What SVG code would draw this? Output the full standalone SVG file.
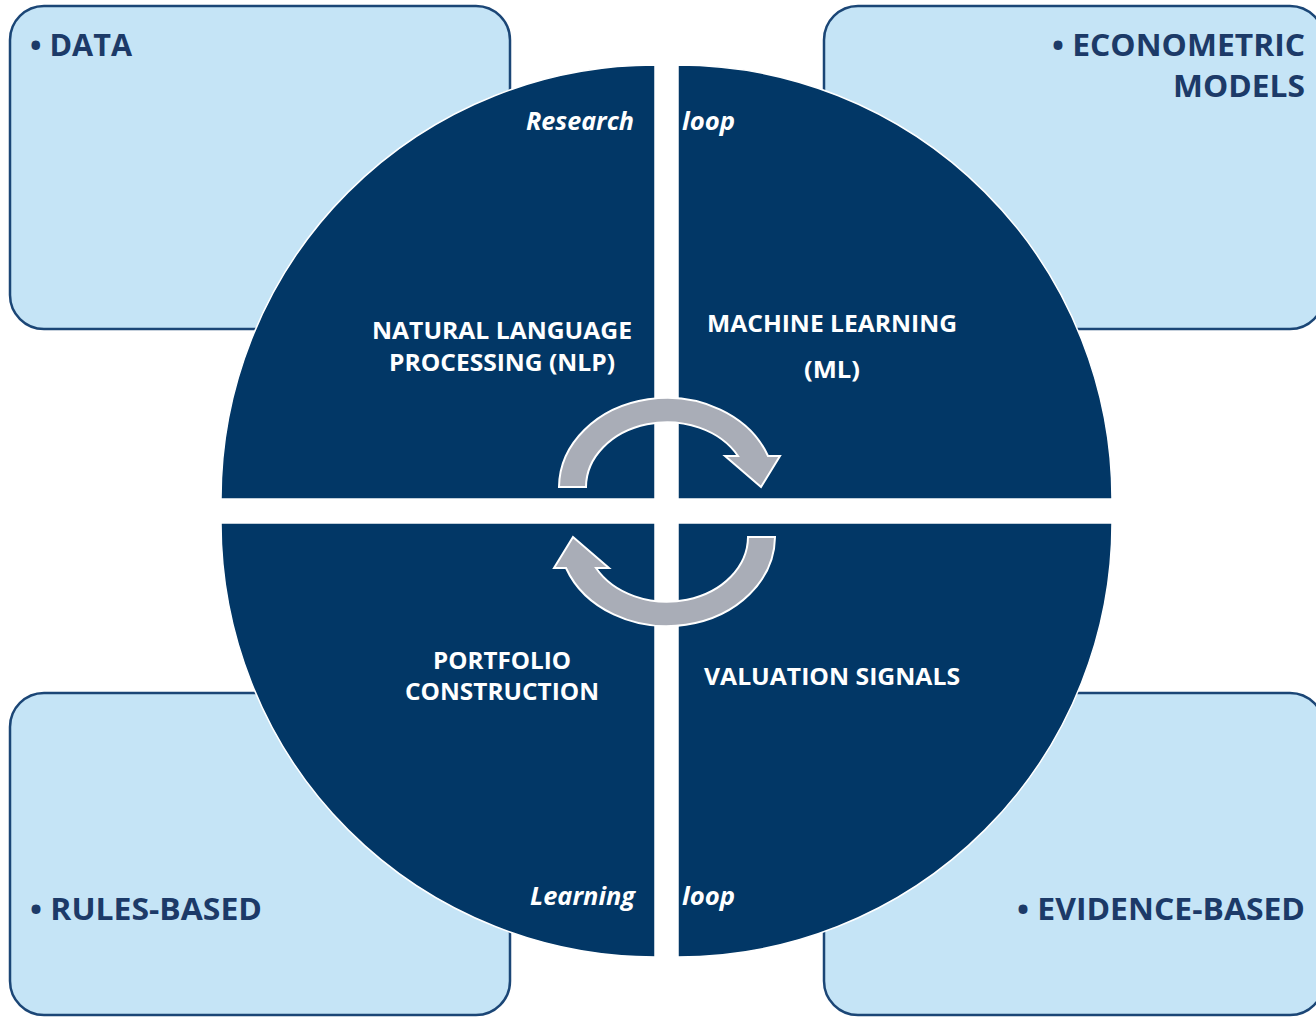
<svg xmlns="http://www.w3.org/2000/svg" width="1316" height="1017" viewBox="0 0 1316 1017">
<style>
.box{fill:#C5E4F6;stroke:#1B4676;stroke-width:2.5}
.quad{fill:#023766;stroke:#FFFFFF;stroke-width:1.5}
.lbl{font-family:"Open Sans","Liberation Sans",sans-serif;font-weight:700;font-size:31px;fill:#1C3A68}
.in{font-family:"Open Sans","Liberation Sans",sans-serif;font-weight:700;font-size:24px;fill:#FFFFFF;text-anchor:middle}
.it{font-family:"Open Sans","Liberation Sans",sans-serif;font-weight:700;font-style:italic;font-size:25px;fill:#FFFFFF}
.arrow{fill:#A9ADB7;stroke:#FFFFFF;stroke-width:2}
</style>
<rect width="1316" height="1017" fill="#FFFFFF"/>
<g id="box-data">
<rect class="box" x="10" y="6" width="500" height="323" rx="34"/>
<text class="lbl" x="30" y="56" textLength="102" lengthAdjust="spacingAndGlyphs">• DATA</text>
</g>
<g id="box-econometric">
<rect class="box" x="824" y="6" width="500" height="323" rx="34"/>
<text class="lbl" x="1305" y="56" text-anchor="end" textLength="253" lengthAdjust="spacingAndGlyphs">• ECONOMETRIC</text>
<text class="lbl" x="1305" y="97" text-anchor="end" textLength="132" lengthAdjust="spacingAndGlyphs">MODELS</text>
</g>
<g id="box-rules">
<rect class="box" x="10" y="693" width="500" height="322" rx="34"/>
<text class="lbl" x="30" y="920" textLength="232" lengthAdjust="spacingAndGlyphs">• RULES-BASED</text>
</g>
<g id="box-evidence">
<rect class="box" x="824" y="693" width="500" height="322" rx="34"/>
<text class="lbl" x="1305" y="920" text-anchor="end" textLength="288" lengthAdjust="spacingAndGlyphs">• EVIDENCE-BASED</text>
</g>
<g id="quad-nlp">
<path class="quad" d="M655,499 L221,499 A434,434 0 0 1 655,65 Z"/>
<text class="it" x="634" y="130" text-anchor="end" textLength="108" lengthAdjust="spacingAndGlyphs">Research</text>
<text class="in" x="502" y="339" textLength="260" lengthAdjust="spacingAndGlyphs">NATURAL LANGUAGE</text>
<text class="in" x="502" y="371" textLength="226" lengthAdjust="spacingAndGlyphs">PROCESSING (NLP)</text>
</g>
<g id="quad-ml">
<path class="quad" d="M678,499 L678,65 A434,434 0 0 1 1112,499 Z"/>
<text class="it" x="682" y="130" textLength="53" lengthAdjust="spacingAndGlyphs">loop</text>
<text class="in" x="832" y="332" textLength="250" lengthAdjust="spacingAndGlyphs">MACHINE LEARNING</text>
<text class="in" x="832" y="378" textLength="56" lengthAdjust="spacingAndGlyphs">(ML)</text>
</g>
<g id="quad-valuation">
<path class="quad" d="M678,523 L1112,523 A434,434 0 0 1 678,957 Z"/>
<text class="in" x="832" y="685" textLength="256" lengthAdjust="spacingAndGlyphs">VALUATION SIGNALS</text>
<text class="it" x="682" y="905" textLength="53" lengthAdjust="spacingAndGlyphs">loop</text>
</g>
<g id="quad-portfolio">
<path class="quad" d="M655,523 L655,957 A434,434 0 0 1 221,523 Z"/>
<text class="in" x="502" y="669" textLength="138" lengthAdjust="spacingAndGlyphs">PORTFOLIO</text>
<text class="in" x="502" y="700" textLength="194" lengthAdjust="spacingAndGlyphs">CONSTRUCTION</text>
<text class="it" x="635" y="905" text-anchor="end" textLength="105" lengthAdjust="spacingAndGlyphs">Learning</text>
</g>
<g id="connectors">
<path id="arrow-top" class="arrow" d="M559,487 A108,90 0 0 1 768,456 L780,456 L761,487 L725,456 L738,456 A81,65 0 0 0 586,487 Z"/>
<path id="arrow-bottom" class="arrow" d="M559,487 A108,90 0 0 1 768,456 L780,456 L761,487 L725,456 L738,456 A81,65 0 0 0 586,487 Z" transform="rotate(180 667 512)"/>
</g>
</svg>
